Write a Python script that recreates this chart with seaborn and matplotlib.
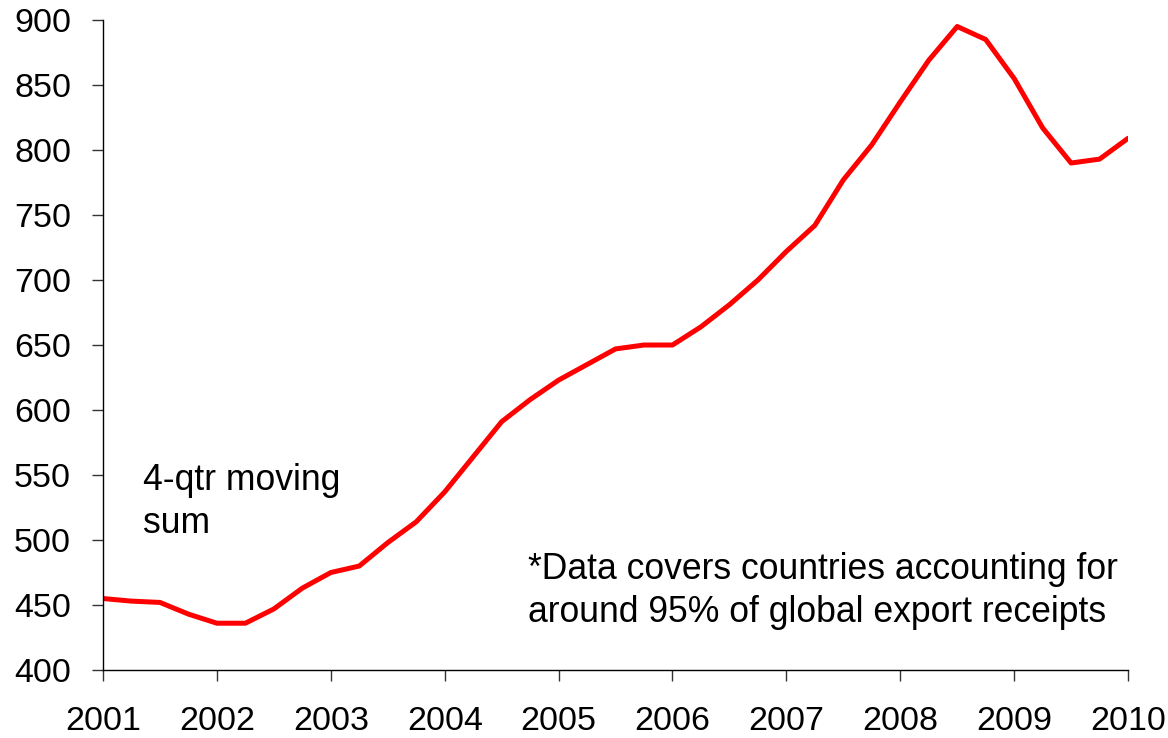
import numpy as np
import pandas as pd
import matplotlib
matplotlib.use('Agg')
import matplotlib.pyplot as plt
import seaborn as sb

# quarterly points, 2001 Q1 .. 2010 Q1 (4-qtr moving sum)
quarters = [2001 + i / 4 for i in range(37)]
values = [455, 453, 452, 443, 436, 436, 447, 463, 475, 480,
          498, 514, 537, 564, 591, 608, 623, 635, 647, 650,
          650, 664, 681, 700, 722, 742, 777, 804, 837, 869,
          895, 885, 855, 817, 790, 793, 809]
year_ticks = list(range(2001, 2011))
y_ticks = list(range(400, 901, 50))

df = pd.DataFrame({'quarter': quarters, 'value': values})

sb.set_style('white')
plt.rcParams['font.family'] = ['Liberation Sans', 'DejaVu Sans']

fig = plt.figure(figsize=(11.68, 7.38), dpi=100)
ax = fig.add_axes([0.0882, 0.0921, 0.8776, 0.8808])

sb.lineplot(data=df, x='quarter', y='value', color='#ff0000', linewidth=3.6, ax=ax)

ax.set_xlim(2001, 2010)
ax.set_ylim(400, 900)
ax.set_xticks(year_ticks)
ax.set_xticklabels([str(y) for y in year_ticks])
ax.set_yticks(y_ticks)
ax.set_xlabel('')
ax.set_ylabel('')

for s in ['top', 'right']:
    ax.spines[s].set_visible(False)
for s in ['left', 'bottom']:
    ax.spines[s].set_color('black')
    ax.spines[s].set_linewidth(1.0)

# seaborn's white style hides the tick marks, turn them back on
ax.tick_params(axis='both', bottom=True, left=True, direction='out', length=8,
               width=1, color='#333333', labelsize=24.5, labelcolor='black')
ax.tick_params(axis='x', pad=18)
ax.tick_params(axis='y', pad=15)

# va='baseline' lines up the last line of the block
ax.text(2001.35, 505.6, '4-qtr moving\nsum', fontsize=25.6, va='baseline', ha='left',
        linespacing=1.3, color='black')
ax.text(2004.73, 437.2, '*Data covers countries accounting for\naround 95% of global export receipts',
        fontsize=25.6, va='baseline', ha='left', linespacing=1.3, color='black')

plt.savefig('out.png', dpi=100)
